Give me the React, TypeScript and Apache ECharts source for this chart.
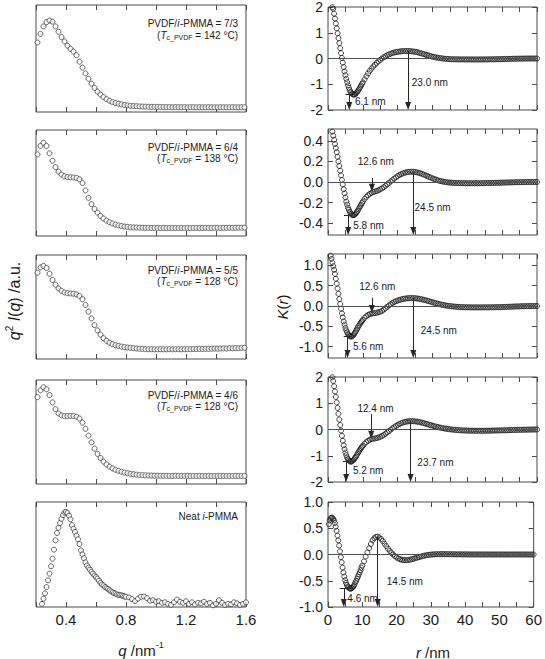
import { useEffect, useRef } from "react";
import * as echarts from "echarts";

const FONT = '"Liberation Sans", Arial, Helvetica, sans-serif';
const INK = "#1a1a1a";
const FRAME = "#4a4a4a";
const MARK = "#262626";
const DOT = "#2b2b2b";
const DOT_DENSE = "#1c1c1c";

// ---------- SAXS (left column) ----------
const Q_BLEND = [
  0.21, 0.23, 0.25, 0.27, 0.29, 0.31, 0.33, 0.35, 0.37, 0.39,
  0.41, 0.43, 0.45, 0.47, 0.49, 0.51, 0.53, 0.55, 0.57, 0.59,
  0.61, 0.63, 0.65, 0.67, 0.69, 0.71, 0.73, 0.75, 0.77, 0.79,
  0.81, 0.83, 0.85, 0.87, 0.89, 0.91, 0.93, 0.95, 0.97, 0.99,
  1.01, 1.03, 1.05, 1.07, 1.09, 1.11, 1.13, 1.15, 1.17, 1.19,
  1.21, 1.23, 1.25, 1.27, 1.29, 1.31, 1.33, 1.35, 1.37, 1.39,
  1.41, 1.43, 1.45, 1.47, 1.49, 1.51, 1.53, 1.55, 1.57, 1.59,
];
const I_73 = [
  0.65, 0.73, 0.8, 0.84, 0.855, 0.845, 0.8, 0.75, 0.7, 0.66,
  0.62, 0.59, 0.565, 0.53, 0.47, 0.415, 0.36, 0.31, 0.265, 0.225,
  0.19, 0.163, 0.14, 0.12, 0.105, 0.093, 0.084, 0.077, 0.071, 0.066,
  0.062, 0.058, 0.056, 0.054, 0.052, 0.051, 0.05, 0.049, 0.048, 0.048,
  0.047, 0.047, 0.046, 0.046, 0.046, 0.045, 0.046, 0.045, 0.045, 0.045,
  0.044, 0.045, 0.045, 0.044, 0.045, 0.044, 0.044, 0.045, 0.044, 0.044,
  0.044, 0.045, 0.044, 0.044, 0.044, 0.045, 0.044, 0.044, 0.045, 0.045,
];
const I_64 = [
  0.77, 0.85, 0.88, 0.85, 0.78, 0.71, 0.65, 0.607, 0.58, 0.563,
  0.556, 0.553, 0.552, 0.548, 0.535, 0.5, 0.43, 0.36, 0.3, 0.255,
  0.22, 0.19, 0.165, 0.145, 0.13, 0.118, 0.108, 0.1, 0.094, 0.089,
  0.086, 0.083, 0.081, 0.08, 0.079, 0.078, 0.077, 0.077, 0.076, 0.076,
  0.076, 0.075, 0.076, 0.075, 0.075, 0.076, 0.075, 0.075, 0.076, 0.075,
  0.076, 0.075, 0.076, 0.076, 0.075, 0.076, 0.077, 0.076, 0.076, 0.077,
  0.077, 0.076, 0.077, 0.077, 0.078, 0.077, 0.078, 0.078, 0.078, 0.079,
];
const I_55 = [
  0.83, 0.88, 0.895, 0.875, 0.82, 0.76, 0.715, 0.678, 0.655, 0.64,
  0.633, 0.63, 0.628, 0.622, 0.607, 0.575, 0.52, 0.455, 0.39, 0.326,
  0.275, 0.235, 0.2, 0.175, 0.157, 0.143, 0.133, 0.126, 0.12, 0.115,
  0.111, 0.107, 0.104, 0.101, 0.099, 0.097, 0.095, 0.094, 0.094, 0.093,
  0.093, 0.094, 0.093, 0.093, 0.094, 0.093, 0.094, 0.094, 0.093, 0.094,
  0.095, 0.094, 0.096, 0.095, 0.097, 0.096, 0.098, 0.097, 0.099, 0.1,
  0.099, 0.101, 0.102, 0.101, 0.104, 0.103, 0.105, 0.104, 0.107, 0.108,
];
const I_46 = [
  0.835, 0.9, 0.93, 0.91, 0.855, 0.785, 0.72, 0.678, 0.66, 0.653,
  0.653, 0.655, 0.653, 0.647, 0.63, 0.59, 0.53, 0.465, 0.4, 0.34,
  0.29, 0.25, 0.215, 0.188, 0.167, 0.15, 0.137, 0.127, 0.118, 0.11,
  0.104, 0.098, 0.094, 0.09, 0.087, 0.085, 0.083, 0.082, 0.081, 0.08,
  0.08, 0.079, 0.079, 0.079, 0.078, 0.078, 0.079, 0.078, 0.078, 0.078,
  0.078, 0.077, 0.078, 0.077, 0.078, 0.077, 0.077, 0.078, 0.077, 0.077,
  0.077, 0.077, 0.078, 0.077, 0.077, 0.077, 0.078, 0.077, 0.077, 0.078,
];
const Q_NEAT = [
  0.24, 0.25, 0.26, 0.27, 0.28, 0.29, 0.3, 0.31, 0.32, 0.33,
  0.34, 0.35, 0.36, 0.37, 0.38, 0.39, 0.4, 0.41, 0.42, 0.43,
  0.44, 0.45, 0.46, 0.47, 0.48, 0.49, 0.5, 0.51, 0.52, 0.53,
  0.54, 0.55, 0.56, 0.57, 0.58, 0.59, 0.6, 0.61, 0.62, 0.63,
  0.64, 0.65, 0.66, 0.67, 0.68, 0.69, 0.7, 0.71, 0.72, 0.73,
  0.74, 0.75, 0.76, 0.77, 0.78, 0.79, 0.8,
  0.82, 0.84, 0.86, 0.88, 0.9, 0.92, 0.94, 0.96, 0.98, 1.0,
  1.02, 1.04, 1.06, 1.08, 1.1, 1.12, 1.14, 1.16, 1.18, 1.2,
  1.22, 1.24, 1.26, 1.28, 1.3, 1.32, 1.34, 1.36, 1.38, 1.4,
  1.42, 1.44, 1.46, 1.48, 1.5, 1.52, 1.54, 1.56, 1.58, 1.6,
];
const I_NEAT = [
  0.03, 0.08, 0.13, 0.19, 0.254, 0.318, 0.388, 0.46, 0.546, 0.635,
  0.705, 0.755, 0.8, 0.84, 0.875, 0.9, 0.905, 0.895, 0.87, 0.835,
  0.78, 0.745, 0.715, 0.68, 0.645, 0.6, 0.54, 0.5, 0.465, 0.425,
  0.395, 0.375, 0.355, 0.335, 0.318, 0.3, 0.285, 0.27, 0.25, 0.23,
  0.215, 0.205, 0.19, 0.18, 0.172, 0.16, 0.15, 0.14, 0.133, 0.128,
  0.12, 0.115, 0.113, 0.11, 0.105, 0.1, 0.097,
  0.092, 0.075, 0.057, 0.08, 0.098, 0.1, 0.085, 0.06, 0.065, 0.05,
  0.055, 0.04, 0.045, 0.03, 0.02, 0.045, 0.07, 0.05, 0.04, 0.055,
  0.03, 0.045, 0.025, 0.04, 0.035, 0.05, 0.03, 0.04, 0.016, 0.03,
  0.065, 0.04, 0.02, 0.03, 0.025, 0.045, 0.035, 0.02, 0.03, 0.045,
];

// ---------- correlation functions (right column) ----------
const R_NM = [
  0.25, 0.5, 0.75, 1, 1.25, 1.5, 1.75, 2, 2.25, 2.5,
  2.75, 3, 3.25, 3.5, 3.75, 4, 4.25, 4.5, 4.75, 5,
  5.25, 5.5, 5.75, 6, 6.25, 6.5, 6.75, 7, 7.25, 7.5,
  7.75, 8, 8.25, 8.5, 8.75, 9, 9.25, 9.5, 9.75, 10,
  10.5, 11, 11.5, 12, 12.5, 13, 13.5, 14, 14.5, 15,
  15.5, 16, 16.5, 17, 17.5, 18, 18.5, 19, 19.5, 20,
  20.5, 21, 21.5, 22, 22.5, 23, 23.5, 24, 24.5, 25,
  25.5, 26, 26.5, 27, 27.5, 28, 28.5, 29, 29.5, 30,
  30.5, 31, 31.5, 32, 32.5, 33, 33.5, 34, 34.5, 35,
  35.5, 36, 36.5, 37, 37.5, 38, 38.5, 39, 39.5, 40,
  40.5, 41, 41.5, 42, 42.5, 43, 43.5, 44, 44.5, 45,
  45.5, 46, 46.5, 47, 47.5, 48, 48.5, 49, 49.5, 50,
  50.5, 51, 51.5, 52, 52.5, 53, 53.5, 54, 54.5, 55,
  55.5, 56, 56.5, 57, 57.5, 58, 58.5, 59, 59.5, 60,
];
const K_73 = [
  null, null, null, null, 1.99, 1.93, 1.74, 1.55, 1.36, 1.17,
  0.98, 0.79, 0.6, 0.4, 0.21, 0.02, -0.16, -0.33, -0.5, -0.65,
  -0.79, -0.92, -1.04, -1.14, -1.23, -1.3, -1.35, -1.38, -1.395, -1.4,
  -1.39, -1.36, -1.32, -1.28, -1.23, -1.17, -1.11, -1.05, -0.99, -0.93,
  -0.81, -0.69, -0.58, -0.48, -0.39, -0.31, -0.24, -0.17, -0.11, -0.05,
  0.0, 0.05, 0.09, 0.13, 0.16, 0.19, 0.21, 0.23, 0.25, 0.26,
  0.27, 0.28, 0.285, 0.29, 0.29, 0.29, 0.285, 0.28, 0.27, 0.26,
  0.25, 0.23, 0.21, 0.19, 0.17, 0.15, 0.13, 0.11, 0.09, 0.07,
  0.06, 0.04, 0.03, 0.02, 0.01, 0.0, -0.01, -0.015, -0.02, -0.025,
  -0.03, -0.03, -0.032, -0.033, -0.034, -0.035, -0.035, -0.036, -0.036, -0.036,
  -0.036, -0.037, -0.037, -0.037, -0.037, -0.037, -0.037, -0.037, -0.036, -0.036,
  -0.035, -0.034, -0.033, -0.032, -0.031, -0.03, -0.028, -0.026, -0.025, -0.024,
  -0.022, -0.02, -0.018, -0.016, -0.014, -0.012, -0.01, -0.008, -0.007, -0.006,
  -0.005, -0.004, -0.003, -0.002, -0.002, -0.001, -0.001, 0, 0, 0,
];
const K_64 = [
  null, null, null, null, 0.49, 0.45, 0.41, 0.37, 0.33, 0.29,
  0.245, 0.2, 0.155, 0.11, 0.065, 0.02, -0.025, -0.07, -0.11, -0.15,
  -0.19, -0.22, -0.25, -0.27, -0.29, -0.305, -0.315, -0.32, -0.322, -0.32,
  -0.313, -0.305, -0.293, -0.28, -0.265, -0.25, -0.235, -0.22, -0.205, -0.19,
  -0.165, -0.145, -0.128, -0.115, -0.105, -0.098, -0.092, -0.087, -0.08, -0.072,
  -0.062, -0.05, -0.037, -0.023, -0.009, 0.005, 0.019, 0.033, 0.046, 0.058,
  0.068, 0.077, 0.084, 0.09, 0.094, 0.097, 0.099, 0.1, 0.099, 0.097,
  0.094, 0.09, 0.085, 0.079, 0.072, 0.065, 0.058, 0.05, 0.043, 0.036,
  0.029, 0.023, 0.017, 0.012, 0.008, 0.004, 0.001, -0.002, -0.004, -0.006,
  -0.007, -0.008, -0.009, -0.01, -0.01, -0.011, -0.011, -0.012, -0.012, -0.012,
  -0.012, -0.012, -0.012, -0.012, -0.012, -0.012, -0.012, -0.011, -0.011, -0.011,
  -0.01, -0.01, -0.01, -0.009, -0.009, -0.008, -0.008, -0.007, -0.007, -0.006,
  -0.006, -0.005, -0.005, -0.004, -0.004, -0.003, -0.003, -0.002, -0.002, -0.002,
  -0.001, -0.001, -0.001, 0, 0, 0, 0, 0, 0, 0,
];
const K_55 = [
  null, null, 1.24, 1.16, 1.07, 0.98, 0.89, 0.79, 0.67, 0.55,
  0.43, 0.3, 0.17, 0.05, -0.07, -0.18, -0.28, -0.38, -0.46, -0.54,
  -0.6, -0.65, -0.69, -0.72, -0.74, -0.75, -0.75, -0.74, -0.72, -0.69,
  -0.66, -0.62, -0.58, -0.54, -0.5, -0.47, -0.43, -0.4, -0.37, -0.34,
  -0.29, -0.25, -0.22, -0.2, -0.19, -0.18, -0.175, -0.165, -0.155, -0.14,
  -0.12, -0.09, -0.055, -0.02, 0.015, 0.045, 0.072, 0.097, 0.117, 0.135,
  0.15, 0.163, 0.173, 0.181, 0.187, 0.191, 0.194, 0.195, 0.194, 0.191,
  0.186, 0.18, 0.172, 0.163, 0.153, 0.142, 0.13, 0.118, 0.105, 0.092,
  0.08, 0.068, 0.057, 0.046, 0.036, 0.027, 0.019, 0.011, 0.004, -0.002,
  -0.007, -0.012, -0.016, -0.02, -0.023, -0.026, -0.028, -0.03, -0.031, -0.032,
  -0.033, -0.033, -0.034, -0.034, -0.034, -0.034, -0.034, -0.034, -0.034, -0.033,
  -0.033, -0.033, -0.032, -0.032, -0.031, -0.03, -0.029, -0.028, -0.027, -0.026,
  -0.024, -0.023, -0.021, -0.019, -0.017, -0.015, -0.013, -0.011, -0.01, -0.008,
  -0.007, -0.006, -0.005, -0.004, -0.003, -0.002, -0.002, -0.001, -0.001, 0,
];
const K_46 = [
  null, null, null, null, 1.99, 1.85, 1.65, 1.45, 1.24, 1.03,
  0.82, 0.6, 0.38, 0.17, -0.04, -0.24, -0.43, -0.6, -0.75, -0.88,
  -0.98, -1.07, -1.13, -1.18, -1.21, -1.22, -1.22, -1.2, -1.17, -1.13,
  -1.08, -1.03, -0.98, -0.92, -0.86, -0.81, -0.76, -0.71, -0.66, -0.62,
  -0.54, -0.48, -0.43, -0.39, -0.365, -0.35, -0.34, -0.325, -0.305, -0.28,
  -0.245, -0.205, -0.16, -0.11, -0.058, -0.005, 0.045, 0.09, 0.135, 0.175,
  0.21, 0.24, 0.265, 0.285, 0.3, 0.31, 0.316, 0.318, 0.316, 0.31,
  0.3, 0.288, 0.274, 0.258, 0.24, 0.222, 0.203, 0.184, 0.165, 0.146,
  0.128, 0.11, 0.094, 0.078, 0.063, 0.05, 0.038, 0.027, 0.017, 0.008,
  0.0, -0.008, -0.014, -0.02, -0.025, -0.03, -0.034, -0.037, -0.04, -0.042,
  -0.044, -0.045, -0.046, -0.047, -0.048, -0.048, -0.048, -0.048, -0.048, -0.047,
  -0.046, -0.045, -0.044, -0.042, -0.04, -0.038, -0.036, -0.035, -0.034, -0.033,
  -0.031, -0.029, -0.027, -0.025, -0.022, -0.02, -0.018, -0.016, -0.014, -0.012,
  -0.01, -0.009, -0.007, -0.006, -0.005, -0.004, -0.003, -0.002, -0.001, 0,
];
const K_NEAT = [
  0.58, 0.65, 0.69, 0.7, 0.7, 0.68, 0.65, 0.6, 0.53, 0.45,
  0.36, 0.27, 0.17, 0.06, -0.05, -0.15, -0.25, -0.34, -0.42, -0.49,
  -0.54, -0.58, -0.61, -0.63, -0.645, -0.65, -0.648, -0.64, -0.62, -0.6,
  -0.57, -0.53, -0.5, -0.46, -0.42, -0.38, -0.34, -0.3, -0.25, -0.21,
  -0.13, -0.04, 0.04, 0.12, 0.2, 0.27, 0.31, 0.335, 0.34, 0.325,
  0.295, 0.255, 0.205, 0.16, 0.11, 0.07, 0.03, 0.0, -0.03, -0.055,
  -0.075, -0.09, -0.1, -0.105, -0.108, -0.107, -0.103, -0.097, -0.09, -0.08,
  -0.07, -0.06, -0.05, -0.041, -0.032, -0.024, -0.017, -0.011, -0.006, -0.002,
  0.001, 0.003, 0.005, 0.006, 0.006, 0.007, 0.007, 0.007, 0.006, 0.006,
  0.005, 0.005, 0.004, 0.004, 0.003, 0.003, 0.003, 0.002, 0.002, 0.002,
  0.002, 0.002, 0.001, 0.001, 0.001, 0.001, 0.001, 0.001, 0.001, 0.001,
  0.001, 0.001, 0.001, 0, 0, 0, 0, 0, 0, 0,
  0, 0, 0, 0, 0, 0, 0, 0, 0, 0,
  0, 0, 0, 0, 0, 0, 0, 0, 0, 0,
];

const Q_LABELS = [0.4, 0.8, 1.2, 1.6];
const R_LABELS = [0, 10, 20, 30, 40, 50, 60];

const LEFT_PANELS = [
  { q: Q_BLEND, v: I_73, top: 5, height: 107, notes: [["PVDF/{i|i}-PMMA = 7/3", 23.5], ["({i|T}{s|c_PVDF} = 142 °C)", 35]] },
  { q: Q_BLEND, v: I_64, top: 130, height: 106, notes: [["PVDF/{i|i}-PMMA = 6/4", 147], ["({i|T}{s|c_PVDF} = 138 °C)", 158]] },
  { q: Q_BLEND, v: I_55, top: 255, height: 104, notes: [["PVDF/{i|i}-PMMA = 5/5", 270], ["({i|T}{s|c_PVDF} = 128 °C)", 281]] },
  { q: Q_BLEND, v: I_46, top: 380, height: 104, notes: [["PVDF/{i|i}-PMMA = 4/6", 395], ["({i|T}{s|c_PVDF} = 128 °C)", 406]] },
  { q: Q_NEAT, v: I_NEAT, top: 502, height: 105, notes: [["Neat {i|i}-PMMA", 516]] },
];

const RIGHT_PANELS = [
  {
    k: K_73, top: 5, height: 105, min: -2, max: 2, ticks: [-2, -1, 0, 1, 2], digits: 0,
    arrows: [[6.1, -1.39], [23.0, 0.29]], shorts: [], hlines: [[5.0, 7.6, -1.39]],
    labels: [[7.6, -1.68, "6.1 nm"], [23.9, -0.93, "23.0 nm"]],
  },
  {
    k: K_64, top: 129, height: 106, min: -0.515, max: 0.515, ticks: [-0.4, -0.2, 0, 0.2, 0.4], digits: 1,
    arrows: [[5.8, -0.32], [24.5, 0.1]], shorts: [[12.6, 0.04, -0.095]], hlines: [[4.6, 7.1, -0.32]],
    labels: [[8.4, 0.2, "12.6 nm"], [7.1, -0.418, "5.8 nm"], [24.7, -0.246, "24.5 nm"]],
  },
  {
    k: K_55, top: 254, height: 104, min: -1.28, max: 1.28, ticks: [-1, -0.5, 0, 0.5, 1], digits: 1,
    arrows: [[5.6, -0.745], [24.5, 0.195]], shorts: [[12.6, 0.2, -0.175]], hlines: [[4.5, 6.8, -0.745]],
    labels: [[8.8, 0.47, "12.6 nm"], [7.0, -1.0, "5.6 nm"], [26.5, -0.61, "24.5 nm"]],
  },
  {
    k: K_46, top: 377, height: 105, min: -2, max: 2, ticks: [-2, -1, 0, 1, 2], digits: 0,
    arrows: [[5.2, -1.21], [23.7, 0.318]], shorts: [[12.4, 0.59, -0.35]], hlines: [[4.3, 6.7, -1.21]],
    labels: [[8.3, 0.81, "12.4 nm"], [7.0, -1.58, "5.2 nm"], [25.5, -1.24, "23.7 nm"]],
  },
  {
    k: K_NEAT, top: 502, height: 105, min: -1, max: 1, ticks: [-1, -0.5, 0, 0.5, 1], digits: 1,
    arrows: [[4.6, -0.645], [14.5, 0.34]], shorts: [], hlines: [[3.4, 7.9, -0.645]],
    labels: [[5.5, -0.84, "4.6 nm"], [17.0, -0.51, "14.5 nm"]],
  },
];

const LEFT_X = 36;
const LEFT_W = 210;
const RIGHT_X = 328;
const RIGHT_W = 209;
const ARROW_W = 6;
const ARROW_H = 8;

function buildOption() {
  const grid: any[] = [];
  const xAxis: any[] = [];
  const yAxis: any[] = [];
  const series: any[] = [];
  const graphic: any[] = [];

  const tick = { show: true, inside: true, length: 5, lineStyle: { color: FRAME, width: 1 } };
  const noLine = { show: false, onZero: false };

  const richBase = (size: number) => ({
    i: { fontStyle: "italic", fontSize: size, fontFamily: FONT, fill: INK, color: INK },
  });

  LEFT_PANELS.forEach((p, idx) => {
    const g = grid.length;
    grid.push({ left: LEFT_X, top: p.top, width: LEFT_W, height: p.height, show: true, borderColor: FRAME, borderWidth: 1, backgroundColor: "transparent" });
    const xi = xAxis.length;
    ["bottom", "top"].forEach((pos) =>
      xAxis.push({
        type: "value", gridIndex: g, position: pos, min: 0.2, max: 1.6, interval: 0.2,
        axisLine: noLine, splitLine: { show: false }, axisTick: tick,
        axisLabel: pos === "bottom" && idx === LEFT_PANELS.length - 1
          ? { show: true, customValues: Q_LABELS, formatter: (v: number) => v.toFixed(1), fontSize: 15, color: INK, fontFamily: FONT, margin: 5 }
          : { show: false },
      })
    );
    const yi = yAxis.length;
    yAxis.push({ type: "value", gridIndex: g, min: 0, max: 1, show: false, axisLine: noLine });
    series.push({
      type: "scatter", xAxisIndex: xi, yAxisIndex: yi, symbol: "circle", symbolSize: 5,
      itemStyle: { color: "#ffffff", borderColor: DOT, borderWidth: 0.9 },
      data: p.q.map((q, j) => [q, p.v[j]]),
      silent: true,
    });
    p.notes.forEach(([t, y]) => {
      graphic.push({
        type: "text", x: 238, y,
        style: {
          text: t as string, fontSize: 10, fontFamily: FONT, fill: INK, align: "right", verticalAlign: "middle", lineHeight: 12,
          rich: {
            ...richBase(10),
            s: { fontSize: 7, lineHeight: 7, verticalAlign: "bottom", fontFamily: FONT, fill: INK },
          },
        },
      });
    });
  });

  RIGHT_PANELS.forEach((p, idx) => {
    const g = grid.length;
    grid.push({ left: RIGHT_X, top: p.top, width: RIGHT_W, height: p.height, show: true, borderColor: FRAME, borderWidth: 1, backgroundColor: "transparent" });
    const xi = xAxis.length;
    ["bottom", "top"].forEach((pos) =>
      xAxis.push({
        type: "value", gridIndex: g, position: pos, min: 0, max: 60, interval: 5,
        axisLine: noLine, splitLine: { show: false }, axisTick: tick,
        axisLabel: pos === "bottom" && idx === RIGHT_PANELS.length - 1
          ? { show: true, customValues: R_LABELS, formatter: (v: number) => String(v), fontSize: 15, color: INK, fontFamily: FONT, margin: 5 }
          : { show: false },
      })
    );
    const yi = yAxis.length;
    ["left", "right"].forEach((pos) =>
      yAxis.push({
        type: "value", gridIndex: g, position: pos, min: p.min, max: p.max,
        axisLine: noLine, splitLine: { show: false },
        axisTick: { ...tick, customValues: p.ticks },
        axisLabel: pos === "left"
          ? { show: true, customValues: p.ticks, formatter: (v: number) => v.toFixed(p.digits), fontSize: 14, color: INK, fontFamily: FONT, margin: 5 }
          : { show: false },
      })
    );
    const upp = (p.max - p.min) / p.height;
    const half = (ARROW_H / 2) * upp;
    const lineData: any[] = [{ yAxis: 0, lineStyle: { color: "#505050", width: 1, type: "solid" } }];
    p.arrows.forEach(([r, k]) =>
      lineData.push([
        { coord: [r, k], symbol: "none" },
        { coord: [r, p.min + half], symbol: "triangle", symbolSize: [ARROW_W, ARROW_H] },
      ])
    );
    p.shorts.forEach(([r, k0, k1]) =>
      lineData.push([
        { coord: [r, k0], symbol: "none" },
        { coord: [r, k1 + half], symbol: "triangle", symbolSize: [ARROW_W, ARROW_H] },
      ])
    );
    p.hlines.forEach(([r0, r1, k]) =>
      lineData.push([
        { coord: [r0, k], symbol: "none" },
        { coord: [r1, k], symbol: "none" },
      ])
    );
    series.push({
      type: "scatter", xAxisIndex: xi, yAxisIndex: yi, symbol: "circle", symbolSize: 5,
      itemStyle: { color: "rgba(255,255,255,0)", borderColor: DOT_DENSE, borderWidth: 1 },
      data: R_NM.map((r, j) => [r, p.k[j]]).filter((d) => d[1] !== null),
      silent: true,
      markLine: {
        silent: true, symbol: ["none", "none"], animation: false,
        label: { show: false },
        lineStyle: { color: MARK, width: 1, type: "solid" },
        itemStyle: { color: MARK },
        emphasis: { disabled: true },
        data: lineData,
      },
      markPoint: {
        silent: true, symbol: "circle", symbolSize: 1, animation: false,
        itemStyle: { color: "rgba(0,0,0,0)" },
        label: { show: true, position: "right", distance: 0, formatter: "{b}", fontSize: 10, color: INK, fontFamily: FONT },
        data: p.labels.map(([r, k, t]) => ({ name: t, coord: [r, k] })),
      },
    });
  });

  // axis titles
  graphic.push({
    type: "text", x: 14, y: 301, rotation: Math.PI / 2,
    style: {
      text: "{i|q}{sup|2} {i|I}({i|q}) /a.u.", fontSize: 16, fontFamily: FONT, fill: INK,
      align: "center", verticalAlign: "middle", lineHeight: 20,
      rich: { ...richBase(16), sup: { fontSize: 10, lineHeight: 10, verticalAlign: "top", fontFamily: FONT, fill: INK } },
    },
  });
  graphic.push({
    type: "text", x: 282, y: 307, rotation: Math.PI / 2,
    style: {
      text: "{i|K}({i|r})", fontSize: 15, fontFamily: FONT, fill: INK, align: "center", verticalAlign: "middle",
      rich: richBase(15),
    },
  });
  graphic.push({
    type: "text", x: 141, y: 650,
    style: {
      text: "{i|q} /nm{sup|-1}", fontSize: 15, fontFamily: FONT, fill: INK, align: "center", verticalAlign: "middle", lineHeight: 19,
      rich: { ...richBase(15), sup: { fontSize: 9, lineHeight: 9, verticalAlign: "top", fontFamily: FONT, fill: INK } },
    },
  });
  graphic.push({
    type: "text", x: 433, y: 652,
    style: {
      text: "{i|r} /nm", fontSize: 15, fontFamily: FONT, fill: INK, align: "center", verticalAlign: "middle",
      rich: richBase(15),
    },
  });

  return { animation: false, backgroundColor: "#ffffff", grid, xAxis, yAxis, series, graphic };
}

export default function App() {
  const ref = useRef<HTMLDivElement>(null);
  useEffect(() => {
    if (!ref.current) return;
    const chart = echarts.init(ref.current, undefined, { renderer: "svg" });
    chart.setOption(buildOption() as any);
    return () => chart.dispose();
  }, []);
  return (
    <div
      ref={ref}
      style={{ position: "fixed", left: 0, top: 0, width: 545, height: 659, background: "#ffffff" }}
    />
  );
}
